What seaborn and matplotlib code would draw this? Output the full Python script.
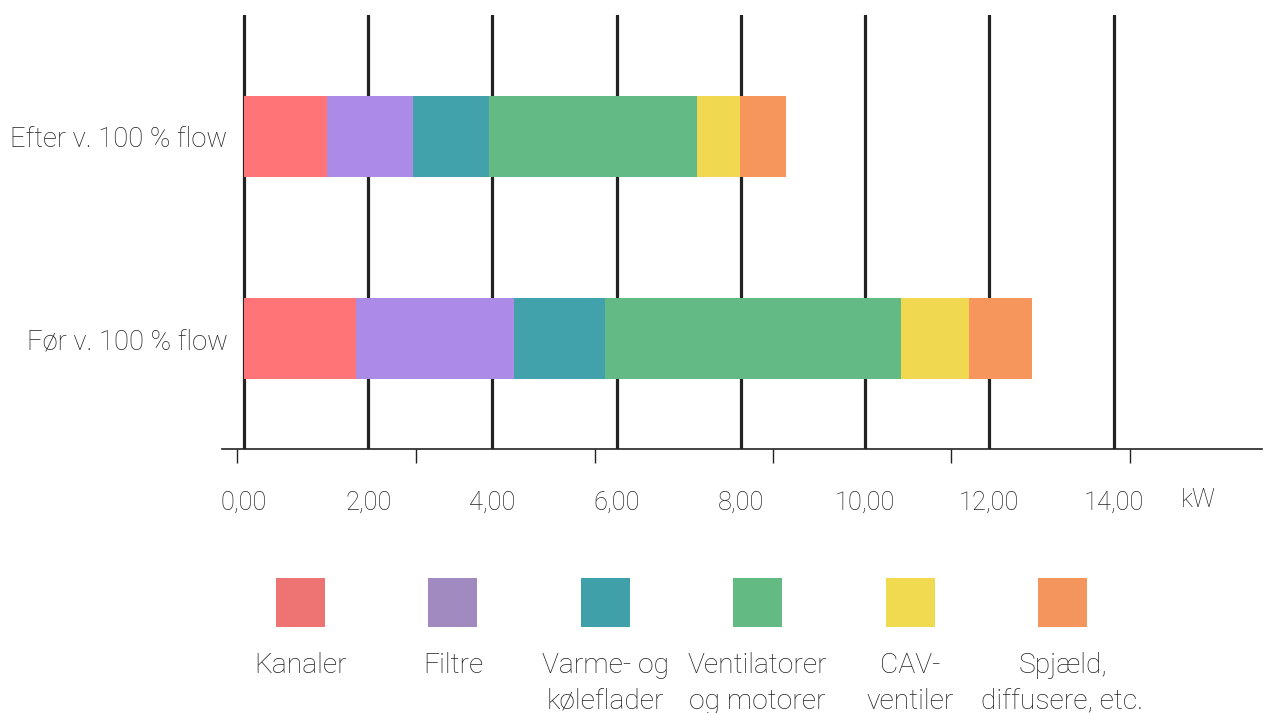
import numpy as np
import seaborn as sns
import matplotlib.pyplot as plt
from matplotlib.patches import Rectangle

# data (kW)
rows = ['Efter v. 100 % flow', 'Før v. 100 % flow']
parts = ['Kanaler', 'Filtre', 'Varme- og\nkøleflader', 'Ventilatorer\nog motorer',
         'CAV-\nventiler', 'Spjæld,\ndiffusere, etc.']
efter = [1.34, 1.38, 1.22, 3.35, 0.69, 0.74]
foer = [1.80, 2.54, 1.48, 4.75, 1.11, 1.00]

bar_colors = ['#FF7477', '#AC8BE6', '#42A2AC', '#64BA84', '#F0D850', '#F7965C']
legend_colors = ['#EE7474', '#A08ABF', '#40A0AA', '#63BA82', '#F0DA50', '#F4955E']

xticks = [0, 2, 4, 6, 8, 10, 12, 14]
xticklabels = ['0,00', '2,00', '4,00', '6,00', '8,00', '10,00', '12,00', '14,00']
# the small tick marks under the axis do not line up with the grid in the original
odd_ticks = [-0.11, 2.77, 5.65, 8.52, 11.38, 14.26]

sns.set_theme(style='white')
plt.rcParams['font.family'] = ['Roboto', 'DejaVu Sans']
plt.rcParams['font.weight'] = 'light'
txt = '#222222'

W, H = 1264, 713
fig = plt.figure(figsize=(W / 100, H / 100), dpi=100)
ax = fig.add_axes([222 / W, 1 - 449 / H, 1040 / W, 434 / H])

# stacked bars: draw cumulative totals from the longest down
cum = np.cumsum(np.array([efter, foer]), axis=1)
for i in reversed(range(len(parts))):
    sns.barplot(x=cum[:, i], y=rows, orient='h', color=bar_colors[i], saturation=1,
                width=0.4, linewidth=0, ax=ax, zorder=3)

ax.set_xlim(-0.354, 16.39)
ax.set_ylim(1.546, -0.6)
ax.set_xlabel('')
ax.set_ylabel('')

ax.set_xticks(xticks)
ax.set_xticklabels(xticklabels)
ax.set_xticks(odd_ticks, minor=True)
ax.xaxis.grid(True, which='major', color='#222222', linewidth=2.3)
ax.set_axisbelow(True)

ax.tick_params(axis='x', which='major', length=0, pad=30, labelsize=18.3, labelcolor=txt)
ax.tick_params(axis='x', which='minor', bottom=True, length=10, width=1, color=txt, direction='out')
ax.tick_params(axis='y', length=0, pad=-4, labelsize=19.8, labelcolor=txt)

for s in ['top', 'right', 'left']:
    ax.spines[s].set_visible(False)
ax.spines['bottom'].set_color(txt)
ax.spines['bottom'].set_linewidth(1.2)

fig.text(1198 / W, 1 - 500 / H, 'kW', ha='center', va='center', fontsize=18.3, color=txt)

# legend: squares with labels underneath
for i, (p, c) in enumerate(zip(parts, legend_colors)):
    cx = 300.5 + 152.4 * i
    fig.patches.append(Rectangle(((cx - 24.5) / W, 1 - 627 / H), 49 / W, 49 / H,
                                 transform=fig.transFigure, color=c, linewidth=0))
    fig.text(cx / W, 1 - 652 / H, p, ha='center', va='top', fontsize=20.3,
             color=txt, linespacing=1.42)

fig.savefig('out.png', dpi=100)
